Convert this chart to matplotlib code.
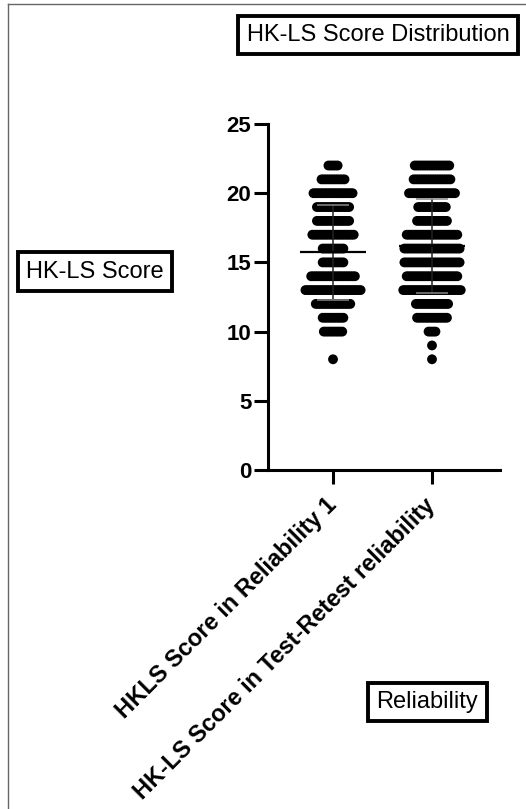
"""
HK-LS score distribution: GraphPad-style scatter dot plot with mean and SD,
two groups (reliability 1 vs test-retest).

Run: python plot.py  -> out.png
"""
import numpy as np
import matplotlib
matplotlib.use("Agg")
import matplotlib.pyplot as plt
from matplotlib.lines import Line2D

plt.rcParams["font.family"] = ["Liberation Sans", "DejaVu Sans"]

scores_1 = [22, 21, 20, 19, 18, 17, 16, 15, 14, 13, 12, 11, 10, 8]
counts_1 = [5, 11, 18, 15, 15, 19, 10, 10, 20, 25, 16, 10, 9, 1]

scores_2 = [22, 21, 20, 19, 18, 17, 16, 15, 14, 13, 12, 11, 10, 9, 8]
counts_2 = [16, 17, 21, 13, 14, 23, 25, 25, 23, 26, 15, 14, 4, 1, 1]

categories = ["HKLS Score in Reliability 1", "HK-LS Score in Test-Retest reliability"]
yticks = [0, 5, 10, 15, 20, 25]

W, H, DPI = 526, 809, 100
fig = plt.figure(figsize=(W / DPI, H / DPI), dpi=DPI)

# axes placed in pixel terms: y axis at x=268, x axis 268..500, y=0 at 470, y=25 at 124
ax = fig.add_axes([268 / W, (H - 470) / H, (500 - 268) / W, (470 - 124) / H])
ax.set_xlim(0.343, 2.687)
ax.set_ylim(0, 25)

STEP = 2.3 / 99  # horizontal spacing between dots in a row (data units)


def draw_group(xc, scores, counts):
    xs, ys = [], []
    for s, n in zip(scores, counts):
        off = (np.arange(n) - (n - 1) / 2) * STEP
        xs.extend(xc + off)
        ys.extend([s] * n)
    ax.scatter(xs, ys, s=50, color="black", edgecolors="none", zorder=3)
    vals = np.repeat(scores, counts)
    m, sd = vals.mean(), vals.std(ddof=1)
    ax.vlines(xc, m - sd, m + sd, color="#222222", lw=1.1, zorder=4)
    ax.hlines([m - sd, m + sd], xc - 0.16, xc + 0.16, color="#888888", lw=1.1, zorder=4)
    ax.hlines(m, xc - 0.33, xc + 0.33, color="black", lw=1.6, zorder=5)


draw_group(1, scores_1, counts_1)
draw_group(2, scores_2, counts_2)

for side in ("top", "right"):
    ax.spines[side].set_visible(False)
for side in ("left", "bottom"):
    ax.spines[side].set_linewidth(2.2)

ax.set_yticks(yticks)
ax.set_yticklabels([str(t) for t in yticks], fontsize=16, fontweight="bold")
ax.set_xticks([1, 2])
ax.set_xticklabels(categories, fontsize=17, fontweight="bold",
                   rotation=45, ha="right", va="center", rotation_mode="anchor")
ax.tick_params(axis="both", length=10, width=2.2, direction="out", pad=2)
ax.tick_params(axis="x", pad=13)

# boxed annotations
box = dict(boxstyle="square,pad=0.35", facecolor="white", edgecolor="black", linewidth=2.8)
fig.text(378 / W, 1 - 35 / H, "HK-LS Score Distribution", fontsize=17,
         ha="center", va="center", bbox=box)
fig.text(95 / W, 1 - 271.5 / H, "HK-LS Score", fontsize=17,
         ha="center", va="center", bbox=box)
fig.text(427.5 / W, 1 - 702 / H, "Reliability", fontsize=17,
         ha="center", va="center", bbox=box)

# thin frame on the left and top of the panel
fig.add_artist(Line2D([8 / W, 8 / W], [0, 1 - 4 / H], color="#666666", lw=1.0))
fig.add_artist(Line2D([8 / W, 1], [1 - 4 / H, 1 - 4 / H], color="#666666", lw=1.0))

fig.savefig("out.png", dpi=DPI)
